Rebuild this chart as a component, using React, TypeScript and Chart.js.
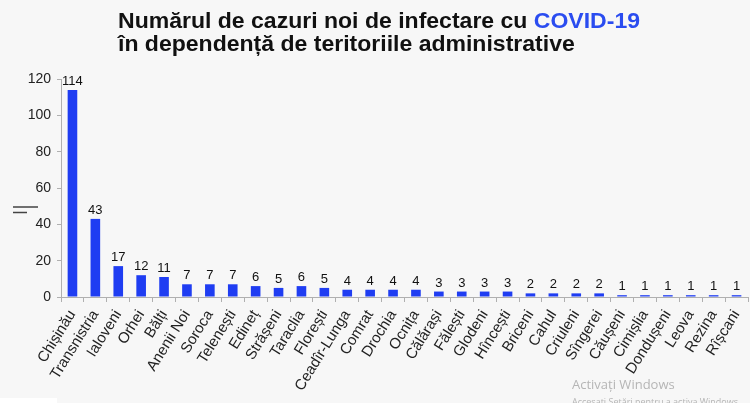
import React, { useEffect, useRef } from "react";
import { Chart, registerables } from "chart.js";

Chart.register(...registerables);

const categories: string[] = [
  "Chișinău", "Transnistria", "Ialoveni", "Orhei", "Bălți", "Anenii Noi", "Soroca",
  "Telenești", "Edineț", "Strășeni", "Taraclia", "Florești", "Ceadîr-Lunga", "Comrat",
  "Drochia", "Ocnița", "Călărași", "Fălești", "Glodeni", "Hîncești", "Briceni", "Cahul",
  "Criuleni", "Sîngerei", "Căușeni", "Cimișlia", "Dondușeni", "Leova", "Rezina", "Rîșcani",
];
const cases: number[] = [
  114, 43, 17, 12, 11, 7, 7, 7, 6, 5, 6, 5, 4, 4, 4, 4, 3, 3, 3, 3, 2, 2, 2, 2, 1, 1, 1, 1, 1, 1,
];
const yTicks: number[] = [0, 20, 40, 60, 80, 100, 120];
const titleLine1a = "Numărul de cazuri noi de infectare cu ";
const titleLine1b = "COVID-19";
const titleLine2 = "în dependență de teritoriile administrative";
const watermark1 = "Activați Windows";
const watermark2 = "Accesați Setări pentru a activa Windows";

const BAR = "#1f3df2";
const BG = "#f7f7f7";

export default function App() {
  const ref = useRef<HTMLCanvasElement | null>(null);

  useEffect(() => {
    document.body.style.margin = "0";
    document.body.style.background = BG;
    const canvas = ref.current;
    if (!canvas) return;

    const bgPlugin = {
      id: "bg",
      beforeDraw(chart: any) {
        const { ctx, width, height } = chart;
        ctx.save();
        ctx.fillStyle = BG;
        ctx.fillRect(0, 0, width, height);
        ctx.restore();
      },
    };

    const decoPlugin = {
      id: "deco",
      afterDraw(chart: any) {
        const ctx: CanvasRenderingContext2D = chart.ctx;
        ctx.save();
        const font = "bold 22px 'Liberation Sans', Arial, sans-serif";
        ctx.font = font;
        ctx.textBaseline = "alphabetic";
        ctx.textAlign = "left";
        const w1 = ctx.measureText(titleLine1a + titleLine1b).width;
        const sx = 522 / w1;
        ctx.translate(118, 0);
        ctx.scale(sx, 1);
        ctx.fillStyle = "#111111";
        ctx.fillText(titleLine1a, 0, 28);
        const wa = ctx.measureText(titleLine1a).width;
        ctx.fillStyle = "#2a4cf0";
        ctx.fillText(titleLine1b, wa, 28);
        ctx.fillStyle = "#111111";
        ctx.fillText(titleLine2, 0, 51);
        ctx.restore();

        ctx.save();
        ctx.strokeStyle = "#444444";
        ctx.lineWidth = 1.5;
        ctx.beginPath();
        ctx.moveTo(13, 207);
        ctx.lineTo(38, 207);
        ctx.moveTo(13, 212.5);
        ctx.lineTo(27, 212.5);
        ctx.stroke();
        ctx.fillStyle = "#ffffff";
        ctx.fillRect(0, 398, 57, 5);
        ctx.fillStyle = "#b5b5b5";
        ctx.font = "13px 'Open Sans', sans-serif";
        ctx.textAlign = "left";
        ctx.fillText(watermark1, 572, 389);
        ctx.font = "9px 'Open Sans', sans-serif";
        ctx.fillText(watermark2, 572, 405);
        ctx.restore();
      },
    };

    const labelPlugin = {
      id: "vals",
      afterDatasetsDraw(chart: any) {
        const ctx: CanvasRenderingContext2D = chart.ctx;
        const meta = chart.getDatasetMeta(0);
        ctx.save();
        ctx.fillStyle = "#111111";
        ctx.font = "13px 'Liberation Sans', Arial, sans-serif";
        ctx.textAlign = "center";
        ctx.textBaseline = "bottom";
        meta.data.forEach((el: any, i: number) => {
          ctx.fillText(String(cases[i]), el.x, el.y - 2);
        });
        ctx.restore();
      },
    };

    const chart = new Chart(canvas, {
      type: "bar",
      data: {
        labels: categories,
        datasets: [
          {
            data: cases,
            backgroundColor: BAR,
            borderWidth: 0,
            categoryPercentage: 1,
            barPercentage: 0.42,
          },
        ],
      },
      options: {
        animation: false,
        responsive: true,
        maintainAspectRatio: false,
        layout: { padding: { top: 79, right: 2, left: 0, bottom: 0 } },
        plugins: {
          legend: { display: false },
          title: { display: false },
          tooltip: { enabled: false },
        },
        scales: {
          x: {
            afterFit(scale: any) {
              scale.height = 106;
              scale.paddingLeft = 0;
              scale.paddingRight = 0;
            },
            grid: {
              display: true,
              offset: true,
              drawOnChartArea: false,
              drawTicks: true,
              tickLength: 5,
              color: "#b0b0b0",
            },
            border: { display: true, color: "#b0b0b0" },
            ticks: {
              autoSkip: false,
              minRotation: 58,
              maxRotation: 58,
              padding: 5,
              color: "#222222",
              font: { size: 15, family: "'Liberation Sans', Arial, sans-serif" },
            },
          },
          y: {
            min: 0,
            max: 120,
            afterFit(scale: any) {
              scale.width = 61;
            },
            afterBuildTicks(scale: any) {
              scale.ticks = yTicks.map((v) => ({ value: v }));
            },
            grid: {
              display: true,
              drawOnChartArea: false,
              drawTicks: true,
              tickLength: 4,
              color: "#b0b0b0",
            },
            border: { display: true, color: "#b0b0b0" },
            ticks: {
              padding: 6,
              color: "#222222",
              font: { size: 14, family: "'Liberation Sans', Arial, sans-serif" },
            },
          },
        },
      },
      plugins: [bgPlugin, labelPlugin, decoPlugin],
    });

    return () => chart.destroy();
  }, []);

  return (
    <div style={{ width: 750, height: 403, position: "relative" }}>
      <canvas ref={ref} />
    </div>
  );
}
